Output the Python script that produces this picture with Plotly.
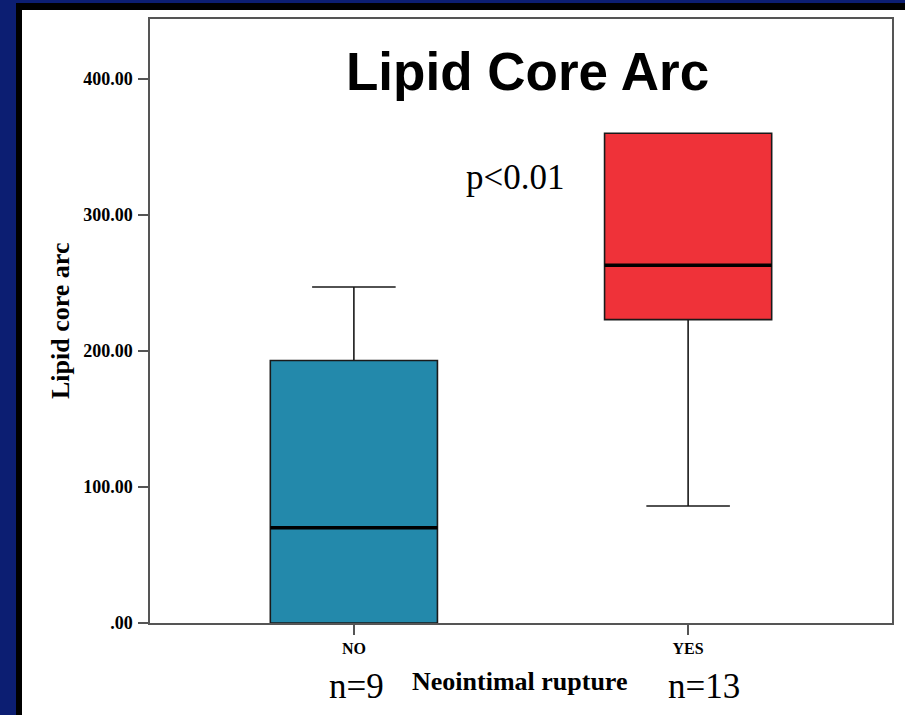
import plotly.graph_objects as go

# Lipid core arc by neointimal rupture group (box summary statistics)
groups = ["NO", "YES"]
positions = [0, 1]
n_counts = [9, 13]
lower_whisker = [0.0, 86.0]
q1_values = [0.0, 223.0]
median_values = [70.0, 263.0]
q3_values = [193.0, 360.0]
upper_whisker = [247.0, 360.0]
box_colors = ["#2389ab", "#ef3239"]

y_tick_vals = [0, 100, 200, 300, 400]
y_tick_text = [".00", "100.00", "200.00", "300.00", "400.00"]

W, H = 905, 715
ML, MR, MT, MB = 150, 13, 19, 92
PW = W - ML - MR
PH = H - MT - MB
BOX_W = 0.5


def px_x(p):
    return (p - ML) / PW


def px_y(p):
    return (H - MB - p) / PH


fig = go.Figure()

for pos, g, lo, q1, med, q3, hi, col in zip(positions, groups, lower_whisker, q1_values,
                                          median_values, q3_values, upper_whisker, box_colors):
    fig.add_trace(go.Box(
        x=[pos], q1=[q1], median=[med], q3=[q3],
        lowerfence=[lo], upperfence=[hi],
        name=g, width=BOX_W, whiskerwidth=0.5,
        fillcolor=col, line=dict(color="#1a1a1a", width=1.6),
        boxpoints=False, hoverinfo="skip", showlegend=False,
    ))
    # heavier median stroke
    fig.add_trace(go.Scatter(
        x=[pos - BOX_W / 2, pos + BOX_W / 2], y=[med, med],
        mode="lines", line=dict(color="#000000", width=3.5),
        hoverinfo="skip", showlegend=False,
    ))

serif_bold = dict(family="Liberation Serif", color="#000000", weight="bold")

fig.update_layout(
    width=W, height=H,
    margin=dict(l=ML, r=MR, t=MT, b=MB, pad=0),
    paper_bgcolor="#0c1e72",
    plot_bgcolor="#ffffff",
    showlegend=False,
    boxmode="overlay",
    xaxis=dict(
        range=[-0.61, 1.61], tickvals=positions, ticktext=groups,
        showgrid=False, zeroline=False,
        showline=True, mirror=True, linecolor="#555555", linewidth=1.5,
        ticks="outside", ticklen=10, tickcolor="#555555", tickwidth=1.5,
        tickfont=dict(size=16, **serif_bold),
    ),
    yaxis=dict(
        range=[0, 444], tickvals=y_tick_vals, ticktext=y_tick_text,
        showgrid=False, zeroline=False,
        showline=True, mirror=True, linecolor="#555555", linewidth=1.5,
        ticks="outside", ticklen=10, tickcolor="#555555", tickwidth=1.5,
        ticklabelstandoff=2,
        tickfont=dict(size=18, **serif_bold),
    ),
)

# slide frame: black edge and white panel over the blue backdrop
fig.add_shape(type="rect", xref="paper", yref="paper", layer="below",
              x0=px_x(16), x1=px_x(W + 20), y0=px_y(3), y1=px_y(H + 20),
              fillcolor="#000000", line=dict(width=0))
fig.add_shape(type="rect", xref="paper", yref="paper", layer="below",
              x0=px_x(22), x1=px_x(W + 20), y0=px_y(10), y1=px_y(H + 20),
              fillcolor="#ffffff", line=dict(width=0))

annotations = [
    dict(text="Lipid Core Arc", x=px_x(527), y=px_y(71),
         font=dict(family="Liberation Sans", size=53, color="#000000", weight="bold")),
    dict(text="p<0.01", x=px_x(515), y=px_y(178),
         font=dict(family="Liberation Serif", size=35, color="#000000")),
    dict(text="Lipid core arc", x=px_x(60), y=0.5, textangle=-90,
         font=dict(size=26, **serif_bold)),
    dict(text="Neointimal rupture", x=px_x(519), y=px_y(682),
         font=dict(size=26, **serif_bold)),
]
for pos, n in zip(positions, n_counts):
    cx = 356 if pos == 0 else 704
    annotations.append(dict(text=f"n={n}", x=px_x(cx), y=px_y(686),
                            font=dict(family="Liberation Serif", size=35, color="#000000")))

for a in annotations:
    fig.add_annotation(xref="paper", yref="paper", showarrow=False,
                       xanchor="center", yanchor="middle", **a)

fig.write_html("out.html")
